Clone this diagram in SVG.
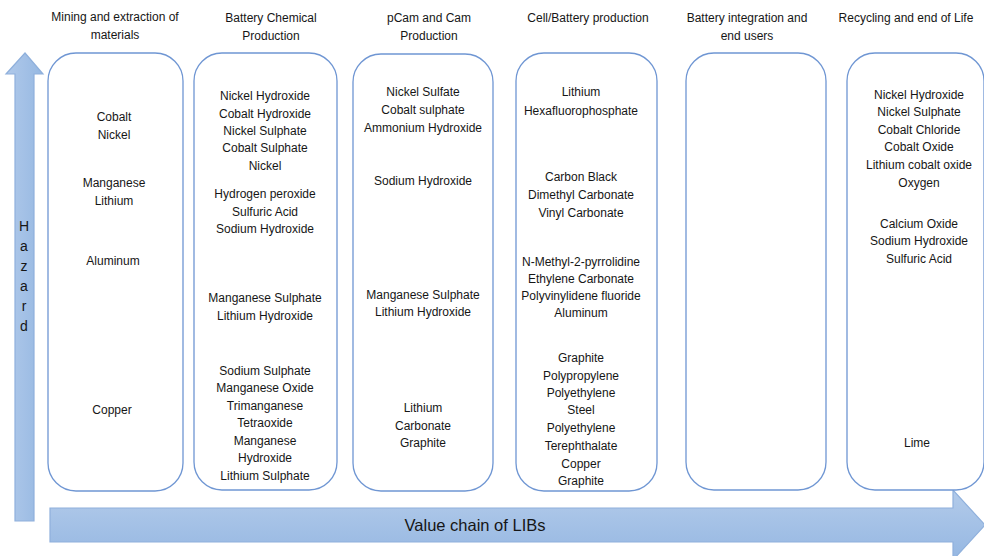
<svg xmlns="http://www.w3.org/2000/svg" width="984" height="556" viewBox="0 0 984 556">
<style>
text{font-family:"Liberation Sans",Arial,sans-serif;fill:#161616;text-anchor:middle}
.t{font-size:12px}
.h{font-size:12px}
.hz{font-size:14px}
.box{fill:#ffffff;stroke:#6f96d3;stroke-width:1.3}
.arr{stroke:#8fb0dc;stroke-width:1.2}
</style>
<defs>
<linearGradient id="gv" x1="0" y1="0" x2="0" y2="1">
<stop offset="0" stop-color="#b3cbea"/>
<stop offset="1" stop-color="#95b7e2"/>
</linearGradient>
<linearGradient id="gh" x1="0" y1="0" x2="1" y2="0">
<stop offset="0" stop-color="#b0c9ea"/>
<stop offset="1" stop-color="#96b8e2"/>
</linearGradient>
</defs>
<rect width="984" height="556" fill="#ffffff"/>

<g id="headers">
<text class="h" x="115" y="21">Mining and extraction of</text>
<text class="h" x="115" y="39">materials</text>
<text class="h" x="271" y="22">Battery Chemical</text>
<text class="h" x="271" y="40">Production</text>
<text class="h" x="429" y="22">pCam and Cam</text>
<text class="h" x="429" y="40">Production</text>
<text class="h" x="588" y="22">Cell/Battery production</text>
<text class="h" x="747" y="22">Battery integration and</text>
<text class="h" x="747" y="40">end users</text>
<text class="h" x="906" y="22">Recycling and end of Life</text>
</g>

<g id="axes">
<g id="hazard-arrow">
<polygon class="arr" fill="url(#gh)" points="25,53 43,74 34,74 34,521 15,521 15,74 6,74"/>
<text class="hz" x="24" y="231">H</text>
<text class="hz" x="24" y="251">a</text>
<text class="hz" x="24" y="271">z</text>
<text class="hz" x="24" y="291">a</text>
<text class="hz" x="24" y="311">r</text>
<text class="hz" x="24" y="331">d</text>
</g>
<g id="value-chain-arrow">
<polygon class="arr" fill="url(#gv)" points="50,508 953,508 953,490 985,525 953,560 953,542 50,542"/>
<text style="font-size:16.5px" x="475" y="531">Value chain of LIBs</text>
</g>
</g>

<g id="mining">
<rect class="box" x="48" y="53" width="135" height="438" rx="28"/>
<text class="t" x="114" y="121">Cobalt</text>
<text class="t" x="114" y="139">Nickel</text>
<text class="t" x="114" y="187">Manganese</text>
<text class="t" x="114" y="205">Lithium</text>
<text class="t" x="113" y="265">Aluminum</text>
<text class="t" x="112" y="414">Copper</text>
</g>

<g id="chemical">
<rect class="box" x="194" y="53" width="143" height="437" rx="28"/>
<text class="t" x="265" y="100">Nickel Hydroxide</text>
<text class="t" x="265" y="118">Cobalt Hydroxide</text>
<text class="t" x="265" y="135">Nickel Sulphate</text>
<text class="t" x="265" y="152">Cobalt Sulphate</text>
<text class="t" x="265" y="170">Nickel</text>
<text class="t" x="265" y="198">Hydrogen peroxide</text>
<text class="t" x="265" y="216">Sulfuric Acid</text>
<text class="t" x="265" y="233">Sodium Hydroxide</text>
<text class="t" x="265" y="302">Manganese Sulphate</text>
<text class="t" x="265" y="320">Lithium Hydroxide</text>
<text class="t" x="265" y="375">Sodium Sulphate</text>
<text class="t" x="265" y="392">Manganese Oxide</text>
<text class="t" x="265" y="410">Trimanganese</text>
<text class="t" x="265" y="427">Tetraoxide</text>
<text class="t" x="265" y="445">Manganese</text>
<text class="t" x="265" y="462">Hydroxide</text>
<text class="t" x="265" y="480">Lithium Sulphate</text>
</g>

<g id="pcam">
<rect class="box" x="353" y="54" width="140" height="437" rx="28"/>
<text class="t" x="423" y="96">Nickel Sulfate</text>
<text class="t" x="423" y="114">Cobalt sulphate</text>
<text class="t" x="423" y="132">Ammonium Hydroxide</text>
<text class="t" x="423" y="185">Sodium Hydroxide</text>
<text class="t" x="423" y="299">Manganese Sulphate</text>
<text class="t" x="423" y="316">Lithium Hydroxide</text>
<text class="t" x="423" y="412">Lithium</text>
<text class="t" x="423" y="430">Carbonate</text>
<text class="t" x="423" y="447">Graphite</text>
</g>

<g id="cell">
<rect class="box" x="516" y="53" width="141" height="438" rx="28"/>
<text class="t" x="581" y="96">Lithium</text>
<text class="t" x="581" y="115">Hexafluorophosphate</text>
<text class="t" x="581" y="181">Carbon Black</text>
<text class="t" x="581" y="199">Dimethyl Carbonate</text>
<text class="t" x="581" y="217">Vinyl Carbonate</text>
<text class="t" x="581" y="266">N-Methyl-2-pyrrolidine</text>
<text class="t" x="581" y="283">Ethylene Carbonate</text>
<text class="t" x="581" y="300">Polyvinylidene fluoride</text>
<text class="t" x="581" y="317">Aluminum</text>
<text class="t" x="581" y="362">Graphite</text>
<text class="t" x="581" y="380">Polypropylene</text>
<text class="t" x="581" y="397">Polyethylene</text>
<text class="t" x="581" y="414">Steel</text>
<text class="t" x="581" y="432">Polyethylene</text>
<text class="t" x="581" y="450">Terephthalate</text>
<text class="t" x="581" y="468">Copper</text>
<text class="t" x="581" y="485">Graphite</text>
</g>

<g id="integration">
<rect class="box" x="686" y="53" width="140" height="437" rx="28"/>
</g>

<g id="recycling">
<rect class="box" x="847" y="53" width="137" height="437" rx="28"/>
<text class="t" x="919" y="99">Nickel Hydroxide</text>
<text class="t" x="919" y="116">Nickel Sulphate</text>
<text class="t" x="919" y="134">Cobalt Chloride</text>
<text class="t" x="919" y="151">Cobalt Oxide</text>
<text class="t" x="919" y="169">Lithium cobalt oxide</text>
<text class="t" x="919" y="187">Oxygen</text>
<text class="t" x="919" y="228">Calcium Oxide</text>
<text class="t" x="919" y="245">Sodium Hydroxide</text>
<text class="t" x="919" y="263">Sulfuric Acid</text>
<text class="t" x="917" y="447">Lime</text>
</g>
</svg>
